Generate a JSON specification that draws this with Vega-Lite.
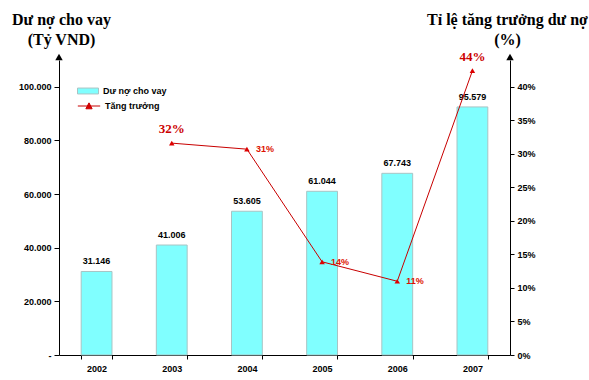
{
  "$schema": "https://vega.github.io/schema/vega-lite/v6.json",
  "width": 451,
  "height": 295,
  "autosize": {"type": "none"},
  "padding": {"left": 59, "top": 60, "right": 79, "bottom": 25},
  "background": "white",
  "config": {
    "view": {"stroke": null},
    "axis": {"grid": false, "domainColor": "black", "tickColor": "black", "labelFont": "Liberation Sans", "labelFontWeight": "bold", "labelFontSize": 9, "labelColor": "black"}
  },
  "datasets": {
    "main": [
      {"year": "2002", "loan": 31146, "loanLabel": "31.146", "growth": null, "growthLabel": null},
      {"year": "2003", "loan": 41006, "loanLabel": "41.006", "growth": 0.316, "growthLabel": "32%"},
      {"year": "2004", "loan": 53605, "loanLabel": "53.605", "growth": 0.307, "growthLabel": "31%"},
      {"year": "2005", "loan": 61044, "loanLabel": "61.044", "growth": 0.139, "growthLabel": "14%"},
      {"year": "2006", "loan": 67743, "loanLabel": "67.743", "growth": 0.110, "growthLabel": "11%"},
      {"year": "2007", "loan": 92500, "loanLabel": "95.579", "growth": 0.424, "growthLabel": "44%"}
    ],
    "arrows": [{"side": 0}, {"side": 1}]
  },
  "layer": [
    {
      "data": {"name": "main"},
      "encoding": {
        "x": {"field": "year", "type": "ordinal", "scale": {"paddingInner": 0.59, "paddingOuter": 0.295},
          "axis": {"title": null, "labelAngle": 0, "tickBand": "extent", "tickSize": 4, "labelPadding": 5, "domainWidth": 1}},
        "y": {"field": "loan", "type": "quantitative", "scale": {"domain": [0, 110000], "nice": false},
          "axis": {"values": [0, 20000, 40000, 60000, 80000, 100000], "tickSize": 5, "labelPadding": 3,
            "labelExpr": "datum.value == 0 ? '-' : replace(format(datum.value, ','), ',', '.')",
            "title": ["Dư nợ cho vay", "(Tỷ VND)"], "titleAngle": 0, "titleAlign": "center", "titleBaseline": "alphabetic",
            "titleX": 2, "titleY": -36, "titleFont": "Liberation Serif", "titleFontSize": 16, "titleFontWeight": "bold", "titleLineHeight": 20, "titleColor": "black"}}
      },
      "layer": [
        {
          "mark": {"type": "bar", "stroke": "#a8c4c4", "strokeWidth": 1},
          "encoding": {
            "fill": {"datum": "Dư nợ cho vay", "scale": {"range": ["#80ffff"]},
              "legend": {"title": null, "orient": "none", "legendX": 18, "legendY": 20, "symbolType": "M-1,-0.28H1V0.28H-1Z", "symbolSize": 441,
                "symbolStrokeColor": "#a8c4c4", "symbolStrokeWidth": 1, "labelFont": "Liberation Sans", "labelFontSize": 9, "labelFontWeight": "bold", "labelColor": "black", "padding": 0}}
          }
        },
        {
          "mark": {"type": "text", "baseline": "bottom", "dy": -5, "font": "Liberation Sans", "fontSize": 9, "fontWeight": "bold", "color": "black"},
          "encoding": {"text": {"field": "loanLabel"}}
        }
      ]
    },
    {
      "data": {"name": "main"},
      "transform": [{"filter": "datum.growth != null"}],
      "encoding": {
        "x": {"field": "year", "type": "ordinal", "scale": {"domain": ["2002", "2003", "2004", "2005", "2006", "2007"], "paddingInner": 0.59, "paddingOuter": 0.295}, "axis": null},
        "y": {"field": "growth", "type": "quantitative", "scale": {"domain": [0, 0.44], "nice": false},
          "axis": {"orient": "right", "values": [0, 0.05, 0.1, 0.15, 0.2, 0.25, 0.3, 0.35, 0.4], "format": ".0%", "tickSize": 4, "labelPadding": 3,
            "title": ["Tỉ lệ tăng trưởng dư nợ", "(%)"], "titleAngle": 0, "titleAlign": "center", "titleBaseline": "alphabetic",
            "titleX": -3, "titleY": -36, "titleFont": "Liberation Serif", "titleFontSize": 16, "titleFontWeight": "bold", "titleLineHeight": 20, "titleColor": "black"}}
      },
      "layer": [
        {
          "mark": {"type": "line", "strokeWidth": 1},
          "encoding": {
            "stroke": {"datum": "Tăng trưởng", "scale": {"range": ["#c80000"]},
              "legend": {"title": null, "orient": "none", "legendX": 18, "legendY": 34, "symbolType": "M-1,0H1M-0.28,0.25L0,-0.28L0.28,0.25Z", "symbolSize": 500,
                "symbolStrokeWidth": 1, "labelFont": "Liberation Sans", "labelFontSize": 9, "labelFontWeight": "bold", "labelColor": "black", "padding": 0,
                "encode": {"symbols": {"update": {"fill": {"value": "#dd0000"}, "stroke": {"value": "#dd0000"}}}}}}
          }
        },
        {
          "mark": {"type": "point", "shape": "triangle-up", "filled": true, "color": "#dd0000", "size": 30, "opacity": 1}
        },
        {
          "transform": [{"filter": {"field": "year", "oneOf": ["2003", "2007"]}}],
          "mark": {"type": "text", "baseline": "bottom", "dy": -7, "font": "Liberation Serif", "fontSize": 13, "fontWeight": "bold", "color": "#cc0000"},
          "encoding": {"text": {"field": "growthLabel"}}
        },
        {
          "transform": [{"filter": {"field": "year", "oneOf": ["2004", "2005", "2006"]}}],
          "mark": {"type": "text", "align": "left", "baseline": "middle", "dx": 9, "font": "Liberation Sans", "fontSize": 9, "fontWeight": "bold", "color": "#dd1100"},
          "encoding": {"text": {"field": "growthLabel"}}
        }
      ]
    },
    {
      "data": {"name": "arrows"},
      "mark": {"type": "point", "shape": "triangle-up", "filled": true, "color": "black", "size": 55, "opacity": 1},
      "encoding": {
        "x": {"field": "side", "type": "quantitative", "scale": {"domain": [0, 1], "nice": false}, "axis": null},
        "y": {"datum": 1, "type": "quantitative", "scale": {"domain": [0, 1], "nice": false}, "axis": null},
        "yOffset": {"value": -3}
      }
    }
  ],
  "resolve": {"scale": {"x": "independent", "y": "independent"}}
}
